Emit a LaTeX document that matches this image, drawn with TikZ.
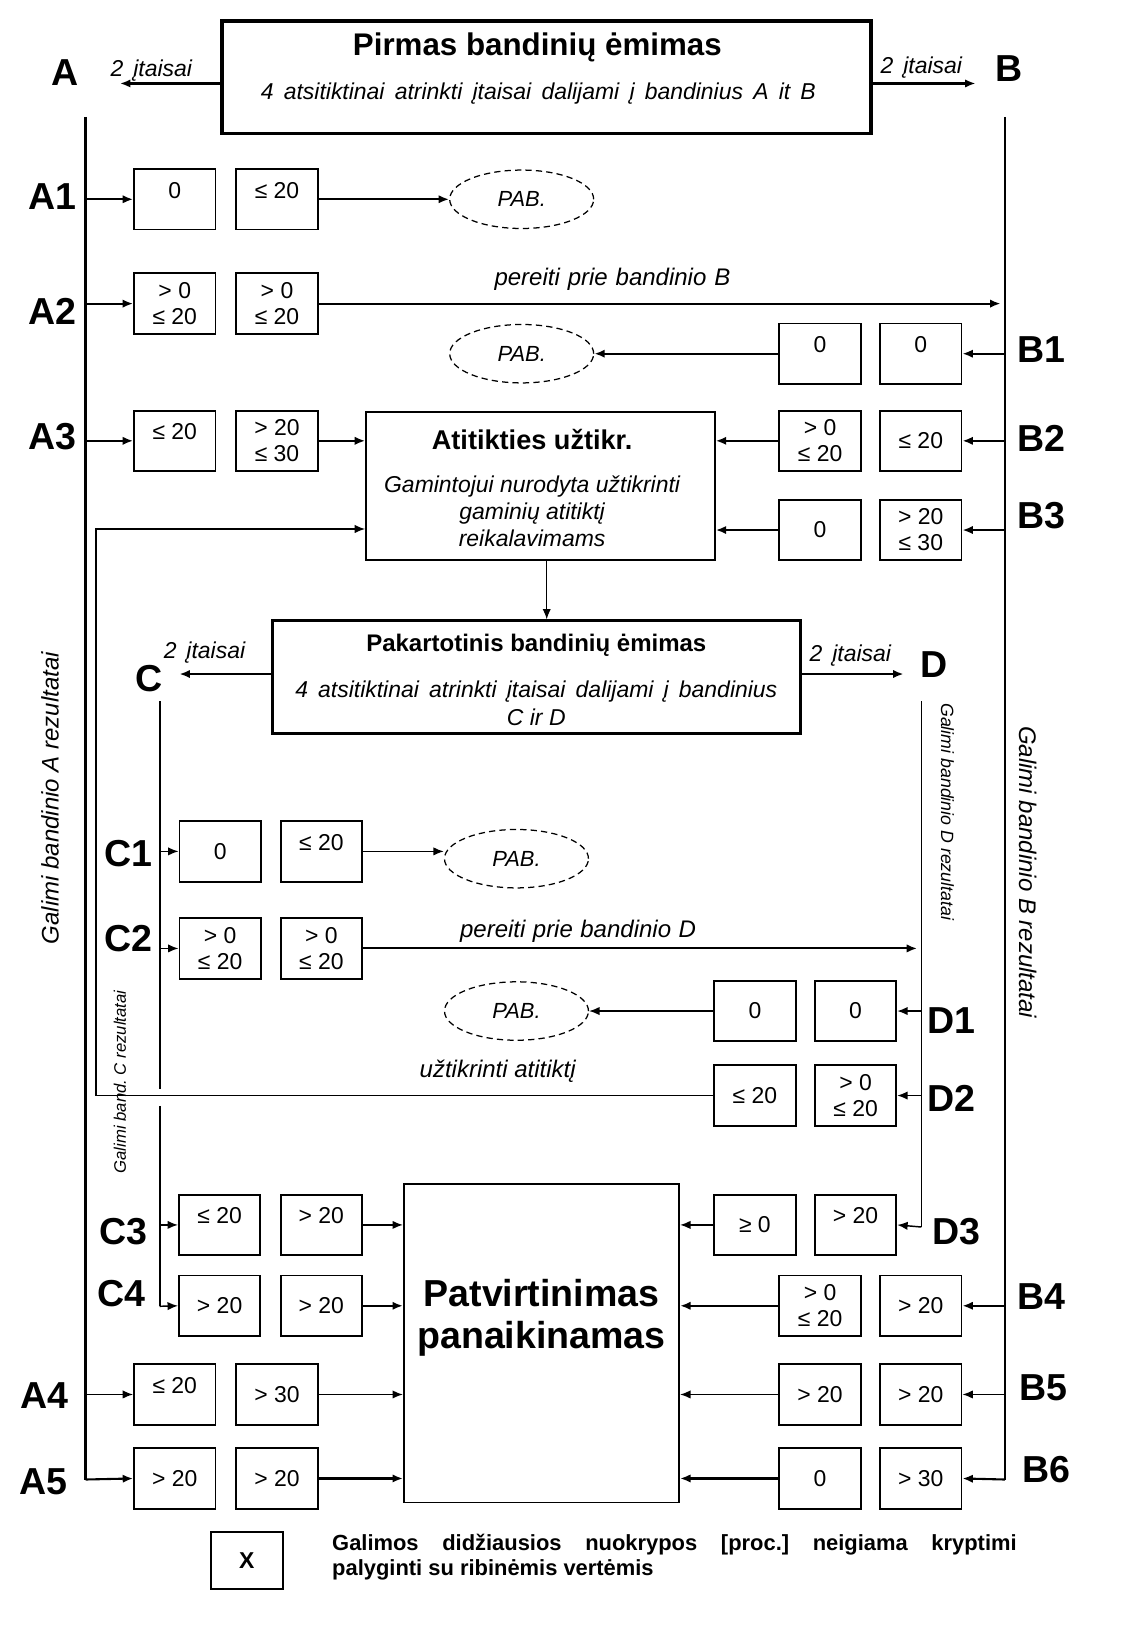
\documentclass[tikz,border=0pt]{standalone}
\usepackage{fontspec}
\setmainfont{Liberation Sans}
\usetikzlibrary{arrows.meta,shapes.geometric}
\frenchspacing
\newcommand{\spreadtext}[2]{\makebox[#1][s]{#2}}

\tikzset{
  val/.style={draw, line width=0.9pt, minimum width=39pt, minimum height=29pt,
    inner sep=0pt, align=center, font=\fontsize{11}{12.5}\selectfont},
  raised/.style={text height=8pt, text depth=9pt},
  pab/.style={ellipse, draw, densely dashed, line width=0.6pt, minimum width=69pt,
    minimum height=28pt, inner sep=0pt, font=\itshape\fontsize{10.5}{12}\selectfont},
  lbl/.style={font=\bfseries\fontsize{18}{20}\selectfont},
  note/.style={font=\itshape\fontsize{11}{13}\selectfont},
  side/.style={font=\itshape\fontsize{11.5}{13}\selectfont},
  sidesmall/.style={font=\itshape\fontsize{8.5}{10}\selectfont},
  arr/.style={->, line width=1pt},
  thinarr/.style={->, line width=0.7pt},
}

\begin{document}
\begin{tikzpicture}[x=0.5pt, y=-0.5pt, >={Latex[length=5pt,width=4pt]}]
  \useasboundingbox (0,0) rectangle (1088,1568);

  % first sampling
  \node[draw, line width=1.8pt, minimum width=311pt, minimum height=54pt] (first) at (524,74) {};
  \node[font=\bfseries\fontsize{15}{18}\selectfont] (firstT) at (515,45) {Pirmas bandinių ėmimas};
  \node[note] (firstB) at (516,90) {\spreadtext{266pt}{4 atsitiktinai atrinkti įtaisai dalijami į bandinius A it B}};
  \node[lbl] (A) at (62,70) {A};
  \node[lbl] (B) at (967,66) {B};
  \coordinate (Aarr) at (115,80);
  \coordinate (Barr) at (935,80);
  \draw[arr] (first.west |- Aarr) -- (Aarr);
  \draw[arr] (first.east |- Barr) -- (Barr);
  \node[note] (nA) at (145,68) {\spreadtext{39pt}{2 įtaisai}};
  \node[note] (nB) at (883,65) {\spreadtext{39pt}{2 įtaisai}};

  % sample lines A and B
  \coordinate (Atop) at (82,112);
  \coordinate (Abot) at (82,1418);
  \coordinate (Btop) at (963,112);
  \coordinate (Bbot) at (963,1418);

  % value boxes, sample A
  \node[val, raised] (a1l) at (167.5,191) {0};
  \node[val, raised] (a1r) at (265.5,191) {≤ 20};
  \node[val] (a2l) at (167.5,291) {> 0\\≤ 20};
  \node[val] (a2r) at (265.5,291) {> 0\\≤ 20};
  \node[val, raised] (a3l) at (167.5,422.5) {≤ 20};
  \node[val] (a3r) at (265.5,422.5) {> 20\\≤ 30};
  \node[val, raised] (a4l) at (167.5,1336.5) {≤ 20};
  \node[val] (a4r) at (265.5,1336.5) {> 30};
  \node[val] (a5l) at (167.5,1417) {> 20};
  \node[val] (a5r) at (265.5,1417) {> 20};

  % value boxes, sample B
  \node[val, raised] (b1l) at (786,339) {0};
  \node[val, raised] (b1r) at (882.5,339) {0};
  \node[val] (b2l) at (786,422.5) {> 0\\≤ 20};
  \node[val] (b2r) at (882.5,422.5) {≤ 20};
  \node[val] (b3l) at (786,508) {0};
  \node[val] (b3r) at (882.5,508) {> 20\\≤ 30};
  \node[val] (b4l) at (786,1251.5) {> 0\\≤ 20};
  \node[val] (b4r) at (882.5,1251.5) {> 20};
  \node[val] (b5l) at (786,1336.5) {> 20};
  \node[val] (b5r) at (882.5,1336.5) {> 20};
  \node[val] (b6l) at (786,1417) {0};
  \node[val] (b6r) at (882.5,1417) {> 30};

  % row labels
  \node[lbl] (A1) at (50,188) {A1};
  \node[lbl] (A2) at (50,298) {A2};
  \node[lbl] (A3) at (50,418) {A3};
  \node[lbl] (A4) at (43,1338) {A4};
  \node[lbl] (A5) at (42,1420) {A5};
  \node[lbl] (B1) at (998,335) {B1};
  \node[lbl] (B2) at (998,420) {B2};
  \node[lbl] (B3) at (998,494) {B3};
  \node[lbl] (B4) at (998,1243) {B4};
  \node[lbl] (B5) at (1000,1330) {B5};
  \node[lbl] (B6) at (1003,1408) {B6};

  \node[pab] (pab1) at (500,191) {PAB.};
  \node[pab] (pab2) at (500,339) {PAB.};

  % conformity box
  \node[draw, line width=1pt, minimum width=167pt, minimum height=71pt] (atit) at (518,466) {};
  \node[font=\bfseries\fontsize{13}{15}\selectfont] (atitT) at (510,421) {Atitikties užtikr.};
  \node[align=center, font=\itshape\fontsize{11}{13}\selectfont] (atitB) at (510,490)
    {Gamintojui nurodyta užtikrinti\\gaminių atitiktį\\reikalavimams};

  \draw[line width=1.2pt] (Atop) -- (Abot);
  \draw[arr] (Abot) -- (a5l.west);
  \draw[line width=0.8pt] (Btop) -- (Bbot);
  \draw[arr] (Bbot) -- (b6r.east);

  \draw[arr] (Atop |- a1l) -- (a1l.west);
  \draw[arr] (a1r.east) -- (pab1.west);
  \draw[arr] (Atop |- a2l) -- (a2l.west);
  \draw[arr] (a2r.east) -- ([xshift=-2pt]Btop |- a2r.east);
  \node[font=\itshape\fontsize{11.5}{13}\selectfont] (goB) at (587,268) {\spreadtext{113pt}{pereiti prie bandinio B}};
  \draw[arr] (Btop |- b1r) -- (b1r.east);
  \draw[arr] (b1l.west) -- (pab2.east);
  \draw[arr] (Atop |- a3l) -- (a3l.west);
  \draw[arr] (a3r.east) -- (a3r.east -| atit.west);
  \draw[arr] (Btop |- b2r) -- (b2r.east);
  \draw[arr] (b2l.west) -- (b2l.west -| atit.east);
  \draw[arr] (Btop |- b3r) -- (b3r.east);
  \draw[arr] (b3l.west) -- (b3l.west -| atit.east);

  % repeated sampling
  \node[draw, line width=1.3pt, minimum width=253pt, minimum height=54pt] (rep) at (514,649) {};
  \node[font=\bfseries\fontsize{11.5}{13}\selectfont] (repT) at (514,618) {Pakartotinis bandinių ėmimas};
  \node[note, align=center] (repB) at (514,674)
    {\spreadtext{231pt}{4 atsitiktinai atrinkti įtaisai dalijami į bandinius}\\C ir D};
  \draw[thinarr] ([xshift=3pt]atit.south) -- ([xshift=3pt]atit.south |- rep.north);
  \coordinate (Carr) at (172,646);
  \coordinate (Darr) at (866,646);
  \draw[arr] (rep.west |- Carr) -- (Carr);
  \draw[arr] (rep.east |- Darr) -- (Darr);
  \node[note] (nC) at (196,625) {\spreadtext{39pt}{2 įtaisai}};
  \node[note] (nD) at (815,628) {\spreadtext{39pt}{2 įtaisai}};
  \node[lbl] (C) at (143,650) {C};
  \node[lbl] (D) at (895,637) {D};

  % sample lines C and D
  \coordinate (Ctop) at (153,672);
  \coordinate (Cgap1) at (153,1044);
  \coordinate (Cgap2) at (153,1060);
  \coordinate (Cbot) at (153,1252);
  \coordinate (Dtop) at (883,672);
  \coordinate (Dbot) at (883,1176);

  % value boxes, samples C and D
  \node[val] (c1l) at (211,816) {0};
  \node[val, raised] (c1r) at (308,816) {≤ 20};
  \node[val] (c2l) at (211,909) {> 0\\≤ 20};
  \node[val] (c2r) at (308,909) {> 0\\≤ 20};
  \node[val, raised] (c3l) at (210.5,1174) {≤ 20};
  \node[val, raised] (c3r) at (308,1174) {> 20};
  \node[val] (c4l) at (210.5,1251.5) {> 20};
  \node[val] (c4r) at (308,1251.5) {> 20};
  \node[val] (d1l) at (723.5,969) {0};
  \node[val] (d1r) at (820,969) {0};
  \node[val] (d2l) at (723.5,1050) {≤ 20};
  \node[val] (d2r) at (820,1050) {> 0\\≤ 20};
  \node[val] (d3l) at (723.5,1174) {≥ 0};
  \node[val, raised] (d3r) at (820,1174) {> 20};

  \node[lbl] (C1) at (123,818) {C1};
  \node[lbl] (C2) at (123,900) {C2};
  \node[lbl] (C3) at (118,1180) {C3};
  \node[lbl] (C4) at (116,1240) {C4};
  \node[lbl] (D1) at (912,978) {D1};
  \node[lbl] (D2) at (912,1053) {D2};
  \node[lbl] (D3) at (917,1180) {D3};

  \node[pab] (pab3) at (495,823) {PAB.};
  \node[pab] (pab4) at (495,969) {PAB.};

  % cancellation box
  \node[draw, line width=0.8pt, minimum width=132pt, minimum height=152.5pt] (pat) at (519,1287.5) {};
  \node[align=center, font=\bfseries\fontsize{18}{20}\selectfont] (patT) at (519,1263) {Patvirtinimas\\panaikinamas};

  \draw[line width=1pt] (Ctop) -- (Cgap1);
  \draw[line width=1pt] (Cgap2) -- (Cbot);
  \draw[thinarr] (Cbot) -- (c4l.west);
  \draw[line width=0.7pt] (Dtop) -- (Dbot);
  \draw[thinarr] (Dbot) -- (d3r.east);

  \draw[thinarr] (Ctop |- c1l) -- (c1l.west);
  \draw[thinarr] (c1r.east) -- (c1r.east -| pab3.west);
  \draw[thinarr] (Ctop |- c2l) -- (c2l.west);
  \draw[arr] (c2r.east) -- ([xshift=-2pt]Dtop |- c2r.east);
  \node[font=\itshape\fontsize{11.5}{13}\selectfont] (goD) at (554,893) {\spreadtext{113pt}{pereiti prie bandinio D}};
  \draw[thinarr] (Dtop |- d1r) -- (d1r.east);
  \draw[thinarr] (d1l.west) -- (pab4.east);
  \draw[thinarr] (Dtop |- d2r) -- (d2r.east);
  \coordinate (fbTop) at (92,507);
  \draw[thinarr] (d2l.west) -| (fbTop) -- (fbTop -| atit.west);
  \node[font=\itshape\fontsize{11.5}{13}\selectfont] (assure) at (477,1027) {užtikrinti atitiktį};

  \draw[thinarr] (Ctop |- c3l) -- (c3l.west);
  \draw[thinarr] (c3r.east) -- (c3r.east -| pat.west);
  \draw[arr] (c4r.east) -- (c4r.east -| pat.west);
  \draw[thinarr] (d3l.west) -- (d3l.west -| pat.east);
  \draw[arr] (Btop |- b4r) -- (b4r.east);
  \draw[arr] (b4l.west) -- (b4l.west -| pat.east);
  \draw[thinarr] (Atop |- a4l) -- (a4l.west);
  \draw[thinarr] (a4r.east) -- (a4r.east -| pat.west);
  \draw[thinarr] (Btop |- b5r) -- (b5r.east);
  \draw[thinarr] (b5l.west) -- (b5l.west -| pat.east);
  \draw[arr] (a5r.east) -- (a5r.east -| pat.west);
  \draw[arr] (b6l.west) -- (b6l.west -| pat.east);

  % side captions
  \node[side, rotate=90] (sideA) at (48,765) {Galimi bandinio A rezultatai};
  \node[font=\itshape\fontsize{8}{10}\selectfont, rotate=90] (sideC) at (115,1037) {Galimi band. C rezultatai};
  \node[sidesmall, rotate=-90] (sideD) at (908,778) {Galimi bandinio D rezultatai};
  \node[side, rotate=-90] (sideB) at (985,836) {Galimi bandinio B rezultatai};

  % legend
  \node[draw, line width=0.9pt, minimum width=34.5pt, minimum height=27.5pt,
    font=\bfseries\fontsize{11}{13}\selectfont] (key) at (236.5,1495.5) {X};
  \node[anchor=west, inner sep=0pt, font=\bfseries\fontsize{10.5}{12}\selectfont] (keyT1) at (318,1480)
    {\spreadtext{328pt}{Galimos didžiausios nuokrypos [proc.] neigiama kryptimi}};
  \node[anchor=west, inner sep=0pt, font=\bfseries\fontsize{10.5}{12}\selectfont] (keyT2) at (318,1505)
    {palyginti su ribinėmis vertėmis};
\end{tikzpicture}
\end{document}
